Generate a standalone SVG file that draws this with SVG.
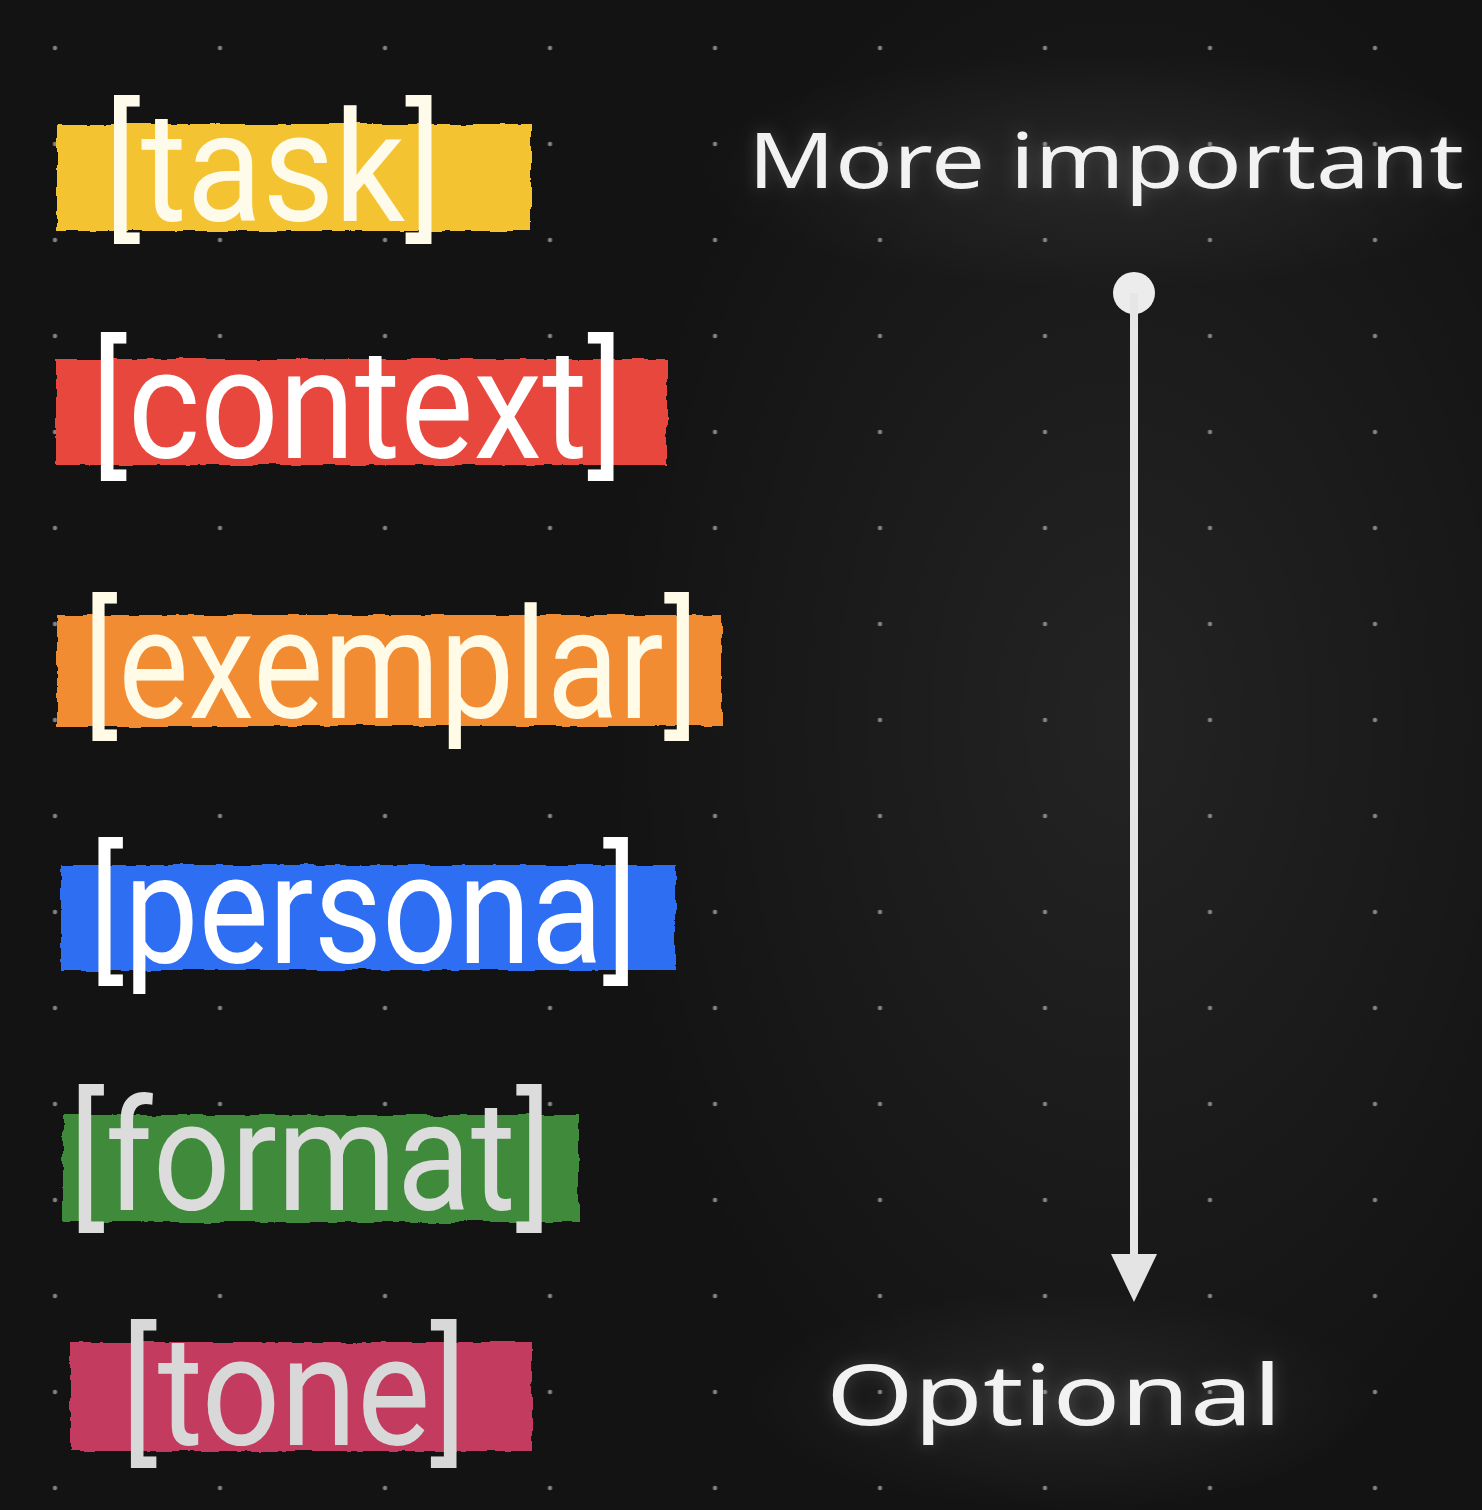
<svg xmlns="http://www.w3.org/2000/svg" width="1482" height="1510" viewBox="0 0 1482 1510">
  <defs>
    <style>
      .tag { font-family: Roboto, "Liberation Sans", sans-serif; font-weight: 400; font-size: 154px; }
      .hand { font-family: "Noto Sans", "DejaVu Sans", sans-serif; font-weight: 400; fill: #f2f2f2; }
      .bar { filter: url(#rough); }
    </style>
    <pattern id="dots" patternUnits="userSpaceOnUse" x="-27.5" y="0" width="165" height="96">
      <circle cx="82.5" cy="48" r="2.2" fill="#858585"/>
    </pattern>
    <radialGradient id="glowR" cx="0.5" cy="0.5" r="0.5">
      <stop offset="0" stop-color="#ffffff" stop-opacity="0.07"/>
      <stop offset="1" stop-color="#ffffff" stop-opacity="0"/>
    </radialGradient>
    <filter id="rough" x="-5%" y="-20%" width="110%" height="140%">
      <feTurbulence type="fractalNoise" baseFrequency="0.035 0.06" numOctaves="3" seed="5" result="n"/>
      <feDisplacementMap in="SourceGraphic" in2="n" scale="6" xChannelSelector="R" yChannelSelector="G"/>
    </filter>
    <filter id="soft" x="-20%" y="-50%" width="140%" height="200%">
      <feGaussianBlur in="SourceAlpha" stdDeviation="8" result="b"/>
      <feFlood flood-color="#ffffff" flood-opacity="0.18"/>
      <feComposite in2="b" operator="in" result="g"/>
      <feMerge><feMergeNode in="g"/><feMergeNode in="SourceGraphic"/></feMerge>
    </filter>
    <marker id="head" viewBox="0 0 48 46" refX="6" refY="23" markerWidth="48" markerHeight="46" markerUnits="userSpaceOnUse" orient="auto">
      <path d="M0,0 L48,23 L0,46 Z" fill="#e4e4e4"/>
    </marker>
  </defs>

  <rect width="1482" height="1510" fill="#131313"/>
  <ellipse cx="1120" cy="720" rx="520" ry="820" fill="url(#glowR)"/>
  <ellipse cx="1110" cy="170" rx="420" ry="120" fill="url(#glowR)"/>
  <ellipse cx="1060" cy="1400" rx="320" ry="110" fill="url(#glowR)"/>
  <rect width="1482" height="1510" fill="url(#dots)"/>

  <g id="node-task">
    <rect class="bar" x="57" y="124" width="474" height="107" fill="#f3c332"/>
    <text class="tag" x="104" y="221" textLength="338" lengthAdjust="spacingAndGlyphs" fill="#fffbea">[task]</text>
  </g>
  <g id="node-context">
    <rect class="bar" x="56" y="359" width="611" height="106" fill="#e8473e"/>
    <text class="tag" x="91" y="458" textLength="533" lengthAdjust="spacingAndGlyphs" fill="#ffffff">[context]</text>
  </g>
  <g id="node-exemplar">
    <rect class="bar" x="57" y="615" width="665" height="111" fill="#f28c30"/>
    <text class="tag" x="83" y="718" textLength="616" lengthAdjust="spacingAndGlyphs" fill="#fffbe6">[exemplar]</text>
  </g>
  <g id="node-persona">
    <rect class="bar" x="61" y="865" width="614" height="105" fill="#2f6ef2"/>
    <text class="tag" x="89" y="963" textLength="549" lengthAdjust="spacingAndGlyphs" fill="#ffffff">[persona]</text>
  </g>
  <g id="node-format">
    <rect class="bar" x="63" y="1115" width="516" height="107" fill="#3f8a3a"/>
    <text class="tag" x="69" y="1210" textLength="483" lengthAdjust="spacingAndGlyphs" fill="#dcdcdc">[format]</text>
  </g>
  <g id="node-tone">
    <rect class="bar" x="70" y="1342" width="462" height="109" fill="#c43a60"/>
    <text class="tag" x="121" y="1445" textLength="346" lengthAdjust="spacingAndGlyphs" fill="#d8d8d8">[tone]</text>
  </g>

  <g id="node-more-important" filter="url(#soft)">
    <text class="hand" x="748" y="188" font-size="76" textLength="716" lengthAdjust="spacingAndGlyphs">More important</text>
  </g>
  <g id="node-optional" filter="url(#soft)">
    <text class="hand" x="826" y="1425" font-size="84" textLength="456" lengthAdjust="spacingAndGlyphs" fill="#dedede">Optional</text>
  </g>

  <g id="connectors">
    <circle cx="1134" cy="293" r="21" fill="#ececec"/>
    <line x1="1134" y1="293" x2="1134" y2="1260" stroke="#e6e6e6" stroke-width="8" marker-end="url(#head)"/>
  </g>
</svg>
